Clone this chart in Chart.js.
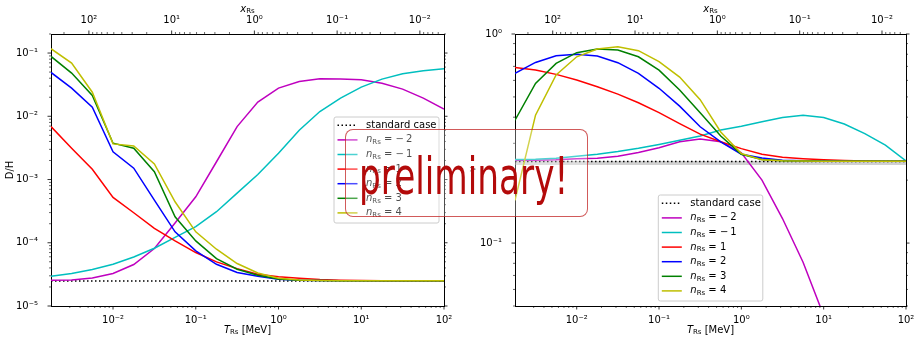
<!DOCTYPE html>
<html>
<head>
<meta charset="utf-8">
<script src="https://cdn.jsdelivr.net/npm/chart.js@4"></script>
<style>
  body { margin: 0; background: #fff; }
  #wrap { position: relative; width: 915px; height: 337px; overflow: hidden; font-family: 'DejaVu Sans', sans-serif; }
  canvas { position: absolute; top: 0; }
  #left { left: 0; }
  #right { left: 458px; }
  #gt { position: absolute; left: 469px; top: 164px; font-size: 9px; color: #333; }
  #prelim {
    position: absolute; left: 345px; top: 129px; width: 241px; height: 86px;
    border: 1.3px solid rgba(190, 20, 20, 0.7); border-radius: 8px;
    background: rgba(255, 255, 255, 0.3);
  }
  #prelim span {
    position: absolute; left: 13px; top: 16px; font-size: 52px; line-height: 1.164;
    color: #b30a0a; white-space: nowrap; transform: scaleX(0.66); transform-origin: 0 0;
  }
</style>
</head>
<body>
<div id="wrap">
  <canvas id="left" width="458" height="337"></canvas>
  <canvas id="right" width="457" height="337"></canvas>
  <div id="gt">&gt;</div>
  <div id="prelim"><span>preliminary!</span></div>
</div>
<script>
// ---- data ----
const tRs = [0.00178, 0.00316, 0.00562, 0.01, 0.0178, 0.0316, 0.0562, 0.1, 0.178, 0.316,
             0.562, 1, 1.78, 3.16, 5.62, 10, 17.8, 31.6, 56.2, 100];
const nRs = [-2, -1, 1, 2, 3, 4];
const lineColors = ['#bf00bf', '#00bfbf', '#ff0000', '#0000ff', '#008000', '#bfbf00'];

// left panel: D/H
const dhStandard = [2.48e-5, 2.48e-5, 2.48e-5, 2.48e-5, 2.48e-5, 2.48e-5, 2.48e-5, 2.48e-5, 2.48e-5, 2.48e-5,
                    2.48e-5, 2.48e-5, 2.48e-5, 2.48e-5, 2.48e-5, 2.48e-5, 2.48e-5, 2.48e-5, 2.48e-5, 2.48e-5];
const dhM2 = [2.55e-5, 2.57e-5, 2.78e-5, 3.26e-5, 4.53e-5, 8.1e-5, 2.06e-4, 5.33e-4, 1.91e-3, 6.87e-3,
              1.68e-2, 2.79e-2, 3.55e-2, 3.92e-2, 3.9e-2, 3.78e-2, 3.34e-2, 2.69e-2, 1.94e-2, 1.3e-2];
const dhM1 = [2.95e-5, 3.26e-5, 3.78e-5, 4.58e-5, 5.97e-5, 8.2e-5, 1.22e-4, 1.8e-4, 3.1e-4, 6.1e-4,
              1.2e-3, 2.6e-3, 6.0e-3, 1.19e-2, 1.94e-2, 2.89e-2, 3.87e-2, 4.7e-2, 5.24e-2, 5.64e-2];
const dhP1 = [6.87e-3, 3.12e-3, 1.45e-3, 5.22e-4, 2.98e-4, 1.69e-4, 1.07e-4, 7.0e-5, 4.98e-5, 3.9e-5,
              3.18e-5, 2.9e-5, 2.75e-5, 2.62e-5, 2.56e-5, 2.53e-5, 2.51e-5, 2.5e-5, 2.5e-5, 2.5e-5];
const dhP2 = [4.93e-2, 2.79e-2, 1.39e-2, 2.75e-3, 1.51e-3, 4.73e-4, 1.49e-4, 7.45e-5, 4.57e-5, 3.38e-5,
              2.95e-5, 2.65e-5, 2.55e-5, 2.52e-5, 2.51e-5, 2.5e-5, 2.5e-5, 2.5e-5, 2.5e-5, 2.5e-5];
const dhP3 = [8.83e-2, 4.82e-2, 2.13e-2, 3.75e-3, 3.12e-3, 1.33e-3, 2.57e-4, 1.07e-4, 5.6e-5, 3.82e-5,
              3.07e-5, 2.68e-5, 2.56e-5, 2.52e-5, 2.51e-5, 2.5e-5, 2.5e-5, 2.5e-5, 2.5e-5, 2.5e-5];
const dhP4 = [0.117, 6.95e-2, 2.4e-2, 3.66e-3, 3.4e-3, 1.76e-3, 4.45e-4, 1.49e-4, 7.9e-5, 4.7e-5,
              3.33e-5, 2.75e-5, 2.58e-5, 2.53e-5, 2.51e-5, 2.5e-5, 2.5e-5, 2.5e-5, 2.5e-5, 2.5e-5];

// right panel: Yp
const ypStandard = [0.2455, 0.2455, 0.2455, 0.2455, 0.2455, 0.2455, 0.2455, 0.2455, 0.2455, 0.2455,
                    0.2455, 0.2455, 0.2455, 0.2455, 0.2455, 0.2455, 0.2455, 0.2455, 0.2455, 0.2455];
const ypBand = [0.2415, 0.2415, 0.2415, 0.2415, 0.2415, 0.2415, 0.2415, 0.2415, 0.2415, 0.2415,
                0.2415, 0.2415, 0.2415, 0.2415, 0.2415, 0.2415, 0.2415, 0.2415, 0.2415, 0.2415];
const ypM2 = [0.249, 0.249, 0.25, 0.253, 0.2545, 0.26, 0.271, 0.286, 0.305, 0.315,
              0.305, 0.27, 0.2, 0.131, 0.081, 0.045, 0.024, 0.012, 0.006, 0.003];
const ypM1 = [0.251, 0.252, 0.2545, 0.26, 0.266, 0.274, 0.284, 0.296, 0.31, 0.325,
              0.347, 0.362, 0.38, 0.399, 0.409, 0.399, 0.371, 0.334, 0.294, 0.247];
const ypP1 = [0.692, 0.672, 0.641, 0.602, 0.559, 0.516, 0.469, 0.421, 0.373, 0.332,
              0.305, 0.283, 0.266, 0.257, 0.253, 0.25, 0.248, 0.247, 0.2465, 0.2465];
const ypP2 = [0.648, 0.731, 0.787, 0.799, 0.785, 0.729, 0.648, 0.55, 0.452, 0.36,
              0.305, 0.266, 0.255, 0.249, 0.2475, 0.247, 0.2465, 0.2465, 0.2465, 0.2465];
const ypP3 = [0.387, 0.58, 0.723, 0.814, 0.847, 0.838, 0.778, 0.672, 0.54, 0.42,
              0.325, 0.266, 0.251, 0.2475, 0.247, 0.2465, 0.2465, 0.2465, 0.2465, 0.2465];
const ypP4 = [0.16, 0.409, 0.637, 0.778, 0.847, 0.87, 0.832, 0.737, 0.622, 0.485,
              0.34, 0.268, 0.25, 0.2475, 0.247, 0.2465, 0.2465, 0.2465, 0.2465, 0.2465];

const tMin = 0.00178, tMax = 100;
const ME = 0.511; // x_Rs = m_e / T

Chart.defaults.font.family = "'DejaVu Sans', sans-serif";
Chart.defaults.font.size = 10;
Chart.defaults.color = '#000';

// ---- helpers ----
const SUP = {'-': '⁻', '0': '⁰', '1': '¹', '2': '²', '3': '³', '4': '⁴', '5': '⁵'};
function isDecade(v) {
  const l = Math.log10(v);
  return Math.abs(l - Math.round(l)) < 1e-6;
}
function decadeLabel(v) {
  const e = String(Math.round(Math.log10(v)));
  return '10' + e.split('').map(c => SUP[c]).join('');
}

function richText(ctx, parts, x, y, align) {
  const fontFor = s => (s === 'i' ? 'italic ' : '') + (s === 's' ? 7 : 10) + "px 'DejaVu Sans'";
  let w = 0;
  parts.forEach(([t, s]) => { ctx.font = fontFor(s); w += ctx.measureText(t).width; });
  let cx = align === 'center' ? x - w / 2 : x;
  ctx.textAlign = 'left';
  ctx.textBaseline = 'middle';
  ctx.fillStyle = '#000';
  parts.forEach(([t, s]) => {
    ctx.font = fontFor(s);
    ctx.fillText(t, cx, s === 's' ? y + 2.5 : y);
    cx += ctx.measureText(t).width;
  });
}

function nParts(n) {
  const val = n < 0 ? '−\u2009' + (-n) : String(n);
  return [['n', 'i'], ['Rs', 's'], [' = ' + val, '']];
}

// ticks, axis titles and legend in matplotlib style
const decor = {
  id: 'decor',
  afterDraw(chart, args, opts) {
    const ctx = chart.ctx;
    const a = chart.chartArea;
    ctx.save();
    ctx.strokeStyle = '#000';
    Object.values(chart.scales).forEach(sc => {
      sc.ticks.forEach(tk => {
        const v = tk.value;
        const m = v / Math.pow(10, Math.floor(Math.log10(v) + 1e-9));
        if (Math.abs(m - Math.round(m)) > 1e-6) return;
        const major = Math.abs(m - 1) < 1e-6;
        const len = major ? 3.5 : 2;
        ctx.lineWidth = major ? 0.8 : 0.6;
        const p = sc.getPixelForValue(v);
        ctx.beginPath();
        if (sc.position === 'left') { ctx.moveTo(a.left, p); ctx.lineTo(a.left - len, p); }
        if (sc.position === 'right') { ctx.moveTo(a.right, p); ctx.lineTo(a.right + len, p); }
        if (sc.position === 'bottom') { ctx.moveTo(p, a.bottom); ctx.lineTo(p, a.bottom + len); }
        if (sc.position === 'top') { ctx.moveTo(p, a.top); ctx.lineTo(p, a.top - len); }
        ctx.stroke();
      });
    });

    const cx = (a.left + a.right) / 2;
    richText(ctx, [['T', 'i'], ['Rs', 's'], [' [MeV]', '']], cx, 330, 'center');
    richText(ctx, [['x', 'i'], ['Rs', 's']], cx, 9, 'center');

    // legend
    const L = opts.legend;
    ctx.fillStyle = 'rgba(255,255,255,0.8)';
    ctx.strokeStyle = '#cccccc';
    ctx.lineWidth = 1;
    ctx.beginPath();
    ctx.roundRect(L.x, L.y, L.w, L.h, 2);
    ctx.fill();
    ctx.stroke();
    const entries = chart.data.datasets.filter(d => d.label);
    entries.forEach((d, i) => {
      const y = L.y + 8.3 + i * 14.6;
      ctx.strokeStyle = d.borderColor;
      ctx.lineWidth = 1.5;
      ctx.setLineDash(d.borderDash || []);
      ctx.beginPath();
      ctx.moveTo(L.x + 3.5, y);
      ctx.lineTo(L.x + 23.5, y);
      ctx.stroke();
      ctx.setLineDash([]);
      const parts = d.nValue === undefined ? [[d.label, '']] : nParts(d.nValue);
      richText(ctx, parts, L.x + 32, y, 'left');
    });
    ctx.restore();
  }
};

function axis(position, extra) {
  return Object.assign({
    type: 'logarithmic',
    position: position,
    grid: { display: false },
    border: { display: true, color: '#000', width: 1 },
    ticks: { autoSkip: false, maxRotation: 0, minRotation: 0,
             padding: (position === 'left' || position === 'right') ? 5 : 0,
             callback: v => isDecade(v) ? decadeLabel(v) : '' }
  }, extra);
}

function makeScales(yMin, yMax, leftW, rightW, yTitle) {
  return {
    x: axis('bottom', { min: tMin, max: tMax, afterFit: s => { s.height = 31; } }),
    x2: axis('top', { min: ME / tMax, max: ME / tMin, reverse: true, afterFit: s => { s.height = 34; } }),
    y: axis('left', {
      min: yMin, max: yMax,
      title: yTitle ? { display: true, text: yTitle, padding: { top: 4, bottom: 0 } } : { display: false },
      afterFit: s => { s.width = leftW; }
    }),
    y2: axis('right', {
      min: yMin, max: yMax,
      ticks: { autoSkip: false, padding: 0, callback: () => '' },
      afterFit: s => { s.width = rightW; }
    })
  };
}

function lineSet(label, vals, color, extra) {
  return Object.assign({
    label: label,
    data: tRs.map((t, i) => ({ x: t, y: vals[i] })),
    borderColor: color, borderWidth: 1.5, pointRadius: 0, fill: false, tension: 0
  }, extra);
}

function makeChart(id, standard, series, band, scales, legend) {
  const datasets = [lineSet('standard case', standard, '#000', { borderDash: [1.5, 2.5], order: 10 })];
  series.forEach((vals, i) => {
    datasets.push(lineSet('n_Rs = ' + nRs[i], vals, lineColors[i], { nValue: nRs[i], order: 9 - i }));
  });
  if (band) {
    datasets.push(lineSet('', band, 'rgba(150,150,150,0.45)', { borderWidth: 4, order: 20 }));
  }
  return new Chart(document.getElementById(id), {
    type: 'line',
    data: { datasets: datasets },
    options: {
      responsive: false,
      animation: false,
      devicePixelRatio: 1,
      events: [],
      layout: { padding: 0 },
      scales: scales,
      plugins: { legend: { display: false }, tooltip: { enabled: false }, decor: { legend: legend } }
    },
    plugins: [decor]
  });
}

makeChart('left', dhStandard, [dhM2, dhM1, dhP1, dhP2, dhP3, dhP4], null,
  makeScales(1e-5, 0.2, 51, 14, 'D/H'),
  { x: 334, y: 117, w: 105, h: 106 });

makeChart('right', ypStandard, [ypM2, ypM1, ypP1, ypP2, ypP3, ypP4], ypBand,
  makeScales(0.05, 1, 57, 9, null),
  { x: 200.3, y: 195, w: 104.5, h: 106 });
</script>
</body>
</html>
